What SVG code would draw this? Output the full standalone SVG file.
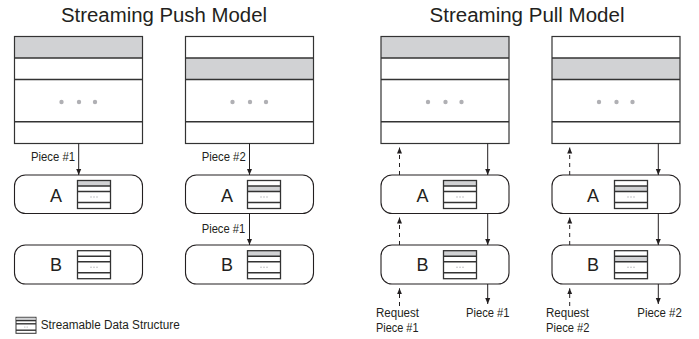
<svg xmlns="http://www.w3.org/2000/svg" xmlns:xlink="http://www.w3.org/1999/xlink" width="699" height="339" viewBox="0 0 699 339">
<style>
.title{font-family:"Liberation Sans",Arial,sans-serif;font-size:20px;fill:#231f20;text-anchor:middle}
.lbl{font-family:"Liberation Sans",Arial,sans-serif;font-size:12px;fill:#231f20}
.letter{font-family:"Liberation Sans",Arial,sans-serif;font-size:18px;fill:#231f20;text-anchor:middle}
.box{fill:#fff;stroke:#333;stroke-width:1.2}
.row{stroke:#333;stroke-width:1.4}
.gray{fill:#d1d2d4}
.node{fill:#fff;stroke:#231f20;stroke-width:1.1}
.dot{fill:#b0b0b4}
.solid{stroke:#231f20;stroke-width:1;fill:none;marker-end:url(#ah)}
.dash{stroke:#231f20;stroke-width:1;fill:none;stroke-dasharray:4 4;marker-end:url(#ah)}
</style>
<defs>
<marker id="ah" markerUnits="userSpaceOnUse" markerWidth="6" markerHeight="6" viewBox="0 0 6 6" refX="6" refY="3" orient="auto">
<path d="M0,0.5 L6,3 L0,5.5 Z" fill="#231f20"/>
</marker>
<g id="iconBase">
<rect x="0" y="0" width="33" height="28" fill="none" stroke="#333" stroke-width="1.3"/>
<line class="row" x1="0" y1="5.5" x2="33" y2="5.5" stroke-width="1.2"/>
<line class="row" x1="0" y1="11" x2="33" y2="11" stroke-width="1.2"/>
<line class="row" x1="0" y1="22" x2="33" y2="22" stroke-width="1.2"/>
<circle class="dot" cx="13.5" cy="16.5" r="0.7"/>
<circle class="dot" cx="16.5" cy="16.5" r="0.7"/>
<circle class="dot" cx="19.5" cy="16.5" r="0.7"/>
</g>
<g id="iconN"><rect x="0" y="0" width="33" height="28" fill="#fff"/><use xlink:href="#iconBase"/></g>
<g id="icon1"><rect x="0" y="0" width="33" height="28" fill="#fff"/><rect class="gray" x="0" y="0" width="33" height="5.5"/><use xlink:href="#iconBase"/></g>
<g id="icon2"><rect x="0" y="0" width="33" height="28" fill="#fff"/><rect class="gray" x="0" y="5.5" width="33" height="5.5"/><use xlink:href="#iconBase"/></g>
<g id="bigBase">
<rect x="0" y="0" width="128" height="107" fill="none" stroke="#333" stroke-width="1.2"/>
<line class="row" x1="0" y1="21.5" x2="128" y2="21.5"/>
<line class="row" x1="0" y1="43" x2="128" y2="43"/>
<line class="row" x1="0" y1="85.2" x2="128" y2="85.2"/>
<circle class="dot" cx="47" cy="65.5" r="2.2"/>
<circle class="dot" cx="64.5" cy="65.5" r="2.2"/>
<circle class="dot" cx="80.5" cy="65.5" r="2.2"/>
</g>
<g id="big1"><rect x="0" y="0" width="128" height="107" fill="#fff"/><rect class="gray" x="0" y="0" width="128" height="21.5"/><use xlink:href="#bigBase"/></g>
<g id="big2"><rect x="0" y="0" width="128" height="107" fill="#fff"/><rect class="gray" x="0" y="21.5" width="128" height="21.5"/><use xlink:href="#bigBase"/></g>
</defs>

<text class="title" x="164" y="22" textLength="206" lengthAdjust="spacingAndGlyphs">Streaming Push Model</text>
<text class="title" x="527" y="22" textLength="195" lengthAdjust="spacingAndGlyphs">Streaming Pull Model</text>

<g id="push-store-1"><use xlink:href="#big1" x="14.5" y="36.5"/></g>
<g id="push-store-2"><use xlink:href="#big2" x="185.5" y="36.5"/></g>
<g id="pull-store-1"><use xlink:href="#big1" x="381" y="36.5"/></g>
<g id="pull-store-2"><use xlink:href="#big2" x="552" y="36.5"/></g>

<g id="push-A-1"><rect class="node" x="14.5" y="175" width="128" height="38.5" rx="11"/><text class="letter" x="56" y="201.5">A</text><use xlink:href="#icon1" x="77.5" y="180.5"/></g>
<g id="push-B-1"><rect class="node" x="14.5" y="245" width="128" height="39" rx="11"/><text class="letter" x="56" y="271">B</text><use xlink:href="#iconN" x="77.5" y="250.7"/></g>
<g id="push-A-2"><rect class="node" x="185.5" y="175" width="128" height="38.5" rx="11"/><text class="letter" x="227" y="201.5">A</text><use xlink:href="#icon2" x="247.5" y="180.5"/></g>
<g id="push-B-2"><rect class="node" x="185.5" y="245" width="128" height="39" rx="11"/><text class="letter" x="227" y="271">B</text><use xlink:href="#icon1" x="247.5" y="250.7"/></g>

<g id="pull-A-1"><rect class="node" x="381" y="175" width="128" height="38.5" rx="11"/><text class="letter" x="422.5" y="201.5">A</text><use xlink:href="#icon1" x="443.5" y="180.5"/></g>
<g id="pull-B-1"><rect class="node" x="381" y="245" width="128" height="39" rx="11"/><text class="letter" x="422.5" y="271">B</text><use xlink:href="#icon1" x="443.5" y="250.7"/></g>
<g id="pull-A-2"><rect class="node" x="552" y="175" width="128" height="38.5" rx="11"/><text class="letter" x="593" y="201.5">A</text><use xlink:href="#icon2" x="614.5" y="180.5"/></g>
<g id="pull-B-2"><rect class="node" x="552" y="245" width="128" height="39" rx="11"/><text class="letter" x="593" y="271">B</text><use xlink:href="#icon2" x="614.5" y="250.7"/></g>

<g id="connectors">
<line class="solid" x1="78.7" y1="143.5" x2="78.7" y2="175"/>
<line class="solid" x1="249.5" y1="143.5" x2="249.5" y2="175"/>
<line class="solid" x1="249.5" y1="213.5" x2="249.5" y2="245"/>

<line class="dash" x1="399.5" y1="175" x2="399.5" y2="147.5"/>
<line class="solid" x1="487.7" y1="143.5" x2="487.7" y2="175"/>
<line class="dash" x1="399.5" y1="245" x2="399.5" y2="217.5"/>
<line class="solid" x1="487.7" y1="213.5" x2="487.7" y2="245"/>
<line class="dash" x1="399.5" y1="306" x2="399.5" y2="288.3"/>
<line class="solid" x1="487.7" y1="284" x2="487.7" y2="304"/>

<line class="dash" x1="569.7" y1="175" x2="569.7" y2="147.5"/>
<line class="solid" x1="658.3" y1="143.5" x2="658.3" y2="175"/>
<line class="dash" x1="569.7" y1="245" x2="569.7" y2="217.5"/>
<line class="solid" x1="658.3" y1="213.5" x2="658.3" y2="245"/>
<line class="dash" x1="569.7" y1="306" x2="569.7" y2="288.3"/>
<line class="solid" x1="658.3" y1="284" x2="658.3" y2="304"/>
</g>

<g id="labels">
<text class="lbl" x="31" y="161" textLength="44" lengthAdjust="spacingAndGlyphs">Piece #1</text>
<text class="lbl" x="201.7" y="161" textLength="44" lengthAdjust="spacingAndGlyphs">Piece #2</text>
<text class="lbl" x="201.7" y="233" textLength="43.5" lengthAdjust="spacingAndGlyphs">Piece #1</text>
<text class="lbl" x="376" y="316.7" textLength="43" lengthAdjust="spacingAndGlyphs">Request</text>
<text class="lbl" x="376" y="331.7" textLength="42.5" lengthAdjust="spacingAndGlyphs">Piece #1</text>
<text class="lbl" x="466" y="316.7" textLength="43.5" lengthAdjust="spacingAndGlyphs">Piece #1</text>
<text class="lbl" x="546" y="316.7" textLength="43" lengthAdjust="spacingAndGlyphs">Request</text>
<text class="lbl" x="546" y="331.7" textLength="43.5" lengthAdjust="spacingAndGlyphs">Piece #2</text>
<text class="lbl" x="637.3" y="316.7" textLength="44.5" lengthAdjust="spacingAndGlyphs">Piece #2</text>
</g>

<g id="legend">
<rect x="16" y="317.3" width="20" height="16" fill="#fff" stroke="#333" stroke-width="1"/>
<rect class="gray" x="16.5" y="317.8" width="19" height="2.8"/>
<line class="row" x1="16" y1="320.6" x2="36" y2="320.6" stroke-width="1"/>
<line class="row" x1="16" y1="323.8" x2="36" y2="323.8" stroke-width="1"/>
<line class="row" x1="16" y1="330.2" x2="36" y2="330.2" stroke-width="1"/>
<circle class="dot" cx="24.5" cy="327" r="0.5"/>
<circle class="dot" cx="26" cy="327" r="0.5"/>
<circle class="dot" cx="27.5" cy="327" r="0.5"/>
<text class="lbl" x="40.7" y="329.3" textLength="139" lengthAdjust="spacingAndGlyphs">Streamable Data Structure</text>
</g>
</svg>
